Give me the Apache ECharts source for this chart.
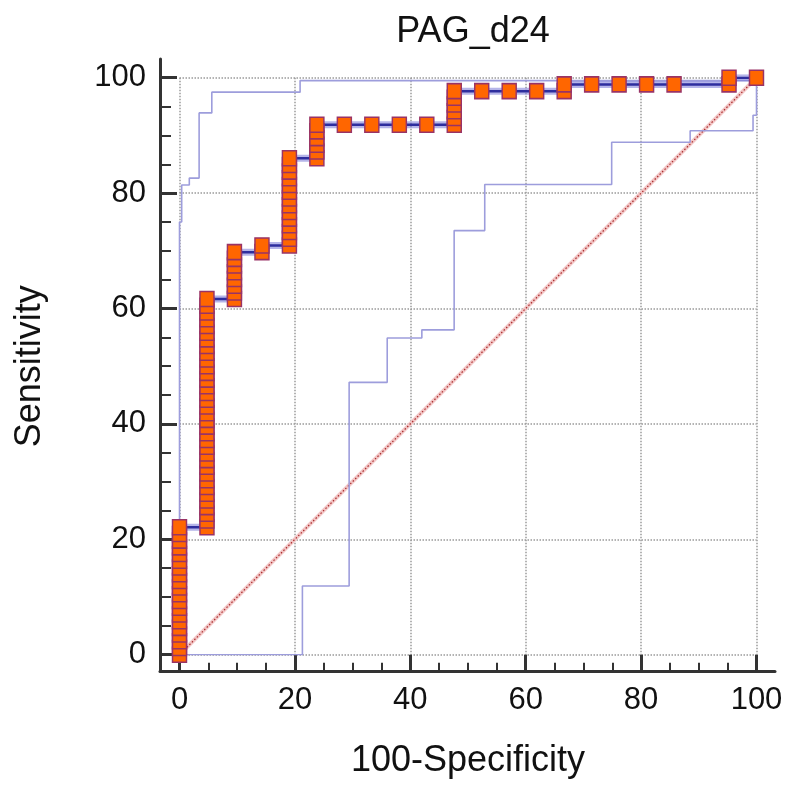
<!DOCTYPE html>
<html>
<head>
<meta charset="utf-8">
<script src="https://cdn.jsdelivr.net/npm/echarts@6/dist/echarts.min.js"></script>
<style>
html,body{margin:0;padding:0;background:#fff;}
#chart{width:790px;height:785px;}
</style>
</head>
<body>
<div id="chart"></div>
<script>
// ---- data ----
const chartTitle = 'PAG_d24';
const xName = '100-Specificity';
const yName = 'Sensitivity';
const tickValues = [0, 20, 40, 60, 80, 100];

// ROC points: 100-Specificity steps and sensitivity values at each step
const fprSteps = [0, 4.76, 9.52, 14.29, 19.05, 23.81, 28.57, 33.33, 38.10, 42.86, 47.62,
  52.38, 57.14, 61.90, 66.67, 71.43, 76.19, 80.95, 85.71, 95.24, 100];
const sensByStep = [
  [0, 1.16, 2.33, 3.49, 4.65, 5.81, 6.98, 8.14, 9.30, 10.47, 11.63, 12.79, 13.95, 15.12, 16.28, 17.44, 18.60, 19.77, 20.93, 22.09],
  [22.09, 23.26, 24.42, 25.58, 26.74, 27.91, 29.07, 30.23, 31.40, 32.56, 33.72, 34.88, 36.05, 37.21, 38.37, 39.53, 40.70, 41.86, 43.02, 44.19, 45.35, 46.51, 47.67, 48.84, 50.00, 51.16, 52.33, 53.49, 54.65, 55.81, 56.98, 58.14, 59.30, 60.47, 61.63],
  [61.63, 62.79, 63.95, 65.12, 66.28, 67.44, 68.60, 69.77],
  [69.77, 70.93],
  [70.93, 72.09, 73.26, 74.42, 75.58, 76.74, 77.91, 79.07, 80.23, 81.40, 82.56, 83.72, 84.88, 86.05],
  [86.05, 87.21, 88.37, 89.53, 90.70, 91.86],
  [91.86],
  [91.86],
  [91.86],
  [91.86],
  [91.86, 93.02, 94.19, 95.35, 96.51, 97.67],
  [97.67],
  [97.67],
  [97.67],
  [97.67, 98.84],
  [98.84],
  [98.84],
  [98.84],
  [98.84],
  [98.84, 100],
  [100]
];

// 95% confidence bounds (step lines)
const upperX = [0, 0, 0.38, 0.38, 1.7, 1.7, 3.4, 3.4, 5.6, 5.6, 20.9, 20.9, 100];
const upperY = [0, 75.0, 75.0, 81.4, 81.4, 82.6, 82.6, 93.9, 93.9, 97.5, 97.5, 99.5, 99.5];
const lowerX = [0, 21.3, 21.3, 29.4, 29.4, 36.0, 36.0, 42.0, 42.0, 47.6, 47.6, 52.9, 52.9, 74.9, 74.9, 88.5, 88.5, 99.4, 99.4, 100, 100];
const lowerY = [0, 0, 11.9, 11.9, 47.2, 47.2, 54.9, 54.9, 56.3, 56.3, 73.5, 73.5, 81.5, 81.5, 88.8, 88.8, 90.8, 90.8, 93.5, 93.5, 100];

// reference diagonal
const diagX = [0, 100];
const diagY = [0, 100];

// ---- build ----
const rocPts = [];
fprSteps.forEach((x, i) => sensByStep[i].forEach(y => rocPts.push([x, y])));
const zip = (a, b) => a.map((v, i) => [v, b[i]]);

const FONT = 'Liberation Sans, Arial, sans-serif';
const AX = '#333';

const chart = echarts.init(document.getElementById('chart'), null, {renderer: 'canvas'});
chart.setOption({
  animation: false,
  backgroundColor: '#fff',
  title: {
    text: chartTitle,
    left: 468, top: 9, textAlign: 'center',
    textStyle: {fontFamily: FONT, fontSize: 36, fontWeight: 'normal', color: '#111'}
  },
  grid: [
    {left: 179.5, right: 33.5, top: 77.7, bottom: 130.3, containLabel: false},
    {left: 160, right: 15, top: 59, bottom: 114, containLabel: false}
  ],
  xAxis: [
    {
      type: 'value', gridIndex: 0, min: 0, max: 100, interval: 20, offset: 16,
      name: xName, nameLocation: 'middle', nameGap: 72,
      nameTextStyle: {fontFamily: FONT, fontSize: 36, color: '#111'},
      axisLine: {show: false, onZero: false},
      axisTick: {show: true, inside: true, length: 16, lineStyle: {color: AX, width: 3}},
      minorTick: {show: true, splitNumber: 4, length: 8, lineStyle: {color: AX, width: 2}},
      axisLabel: {margin: 14, fontFamily: FONT, fontSize: 31, color: '#111',
        formatter: v => tickValues.indexOf(v) >= 0 ? String(v) : ''},
      splitLine: {show: true, lineStyle: {color: '#9a9a9a', type: 'dotted', width: 1.5}}
    },
    {
      type: 'value', gridIndex: 1, min: 0, max: 1,
      axisLine: {show: true, onZero: false, lineStyle: {color: AX, width: 3}},
      axisTick: {show: false}, axisLabel: {show: false}, splitLine: {show: false}
    }
  ],
  yAxis: [
    {
      type: 'value', gridIndex: 0, min: 0, max: 100, interval: 20, offset: 19.5,
      name: yName, nameLocation: 'middle', nameGap: 112, nameRotate: 90,
      nameTextStyle: {fontFamily: FONT, fontSize: 36, color: '#111'},
      axisLine: {show: false, onZero: false},
      axisTick: {show: true, inside: true, length: 17, lineStyle: {color: AX, width: 3}},
      minorTick: {show: true, splitNumber: 4, length: 11, lineStyle: {color: AX, width: 2}},
      axisLabel: {margin: 14, fontFamily: FONT, fontSize: 31, color: '#111'},
      splitLine: {show: true, lineStyle: {color: '#9a9a9a', type: 'dotted', width: 1.5}}
    },
    {
      type: 'value', gridIndex: 1, min: 0, max: 1,
      axisLine: {show: true, onZero: false, lineStyle: {color: AX, width: 3}},
      axisTick: {show: false}, axisLabel: {show: false}, splitLine: {show: false}
    }
  ],
  series: [
    {type: 'line', xAxisIndex: 0, yAxisIndex: 0, data: zip(diagX, diagY), symbol: 'none', silent: true,
      lineStyle: {color: '#f3c6c6', width: 4}},
    {type: 'line', xAxisIndex: 0, yAxisIndex: 0, data: zip(diagX, diagY), symbol: 'none', silent: true,
      lineStyle: {color: '#a52a2a', width: 1.2, type: [1.5, 2]}},
    {type: 'line', xAxisIndex: 0, yAxisIndex: 0, data: zip(upperX, upperY), symbol: 'none', silent: true,
      lineStyle: {color: '#9d9ddc', width: 1.6}},
    {type: 'line', xAxisIndex: 0, yAxisIndex: 0, data: zip(lowerX, lowerY), symbol: 'none', silent: true,
      lineStyle: {color: '#9d9ddc', width: 1.6}},
    {type: 'line', xAxisIndex: 0, yAxisIndex: 0, data: rocPts, symbol: 'none', silent: true,
      lineStyle: {color: 'rgba(120,120,215,0.55)', width: 7}},
    {type: 'line', xAxisIndex: 0, yAxisIndex: 0, data: rocPts, showAllSymbol: true,
      symbol: 'rect', symbolSize: [14, 15],
      lineStyle: {color: '#2e2e9e', width: 2.5},
      itemStyle: {color: '#ff6600', borderColor: '#993366', borderWidth: 1.5}}
  ]
});
</script>
</body>
</html>
